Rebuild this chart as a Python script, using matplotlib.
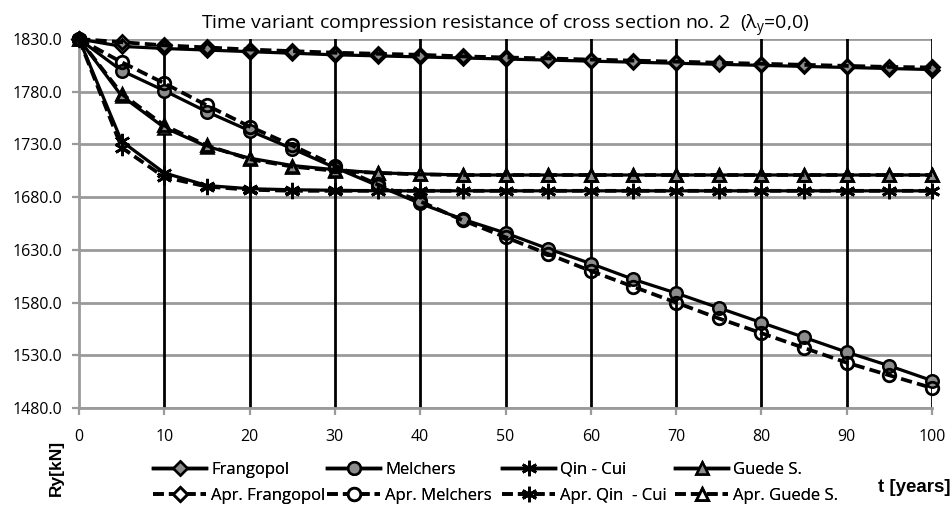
import matplotlib
matplotlib.use("Agg")
import matplotlib.pyplot as plt
import matplotlib.transforms as mtrans
from matplotlib import font_manager as fm
from matplotlib.lines import Line2D

# ---------------- data ----------------
t = [0, 5, 10, 15, 20, 25, 30, 35, 40, 45, 50, 55, 60, 65, 70, 75, 80, 85, 90, 95, 100]

frangopol = [1830, 1823, 1821, 1819.5, 1818, 1816.5, 1815, 1814, 1813, 1812, 1811,
             1810, 1809, 1808, 1807, 1806, 1805, 1804, 1803, 1802, 1801]
melchers = [1830, 1800, 1781, 1761, 1743, 1726, 1708, 1691, 1674, 1659, 1646,
            1631, 1617, 1602, 1589, 1575, 1561, 1547, 1533, 1520, 1506]
qin_cui = [1830, 1733, 1703, 1691, 1688, 1687, 1686.5, 1686, 1686, 1686, 1686,
           1686, 1686, 1686, 1686, 1686, 1686, 1686, 1686, 1686, 1686]
guede = [1830, 1776, 1746, 1728, 1717, 1710, 1706, 1703, 1702, 1701, 1701,
         1701, 1701, 1701, 1701, 1701, 1701, 1701, 1701, 1701, 1701]

apr_frangopol = [1830, 1827, 1824, 1822, 1820, 1818.5, 1817, 1816, 1815, 1813.5, 1812.5,
                 1811.5, 1810.5, 1809.5, 1808.5, 1807.5, 1806.5, 1805.5, 1804.5, 1803.5, 1803]
apr_melchers = [1830, 1808, 1788, 1767, 1747, 1729, 1710, 1692, 1676, 1658, 1642,
                1626, 1610, 1595, 1580, 1565, 1551, 1537, 1523, 1511, 1499]
apr_qin_cui = [1830, 1727, 1699, 1690, 1687, 1686, 1686, 1686, 1686, 1686, 1686,
               1686, 1686, 1686, 1686, 1686, 1686, 1686, 1686, 1686, 1686]
apr_guede = [1830, 1778, 1748, 1729, 1716, 1709, 1705, 1703, 1701.5, 1701, 1701,
             1701, 1701, 1701, 1701, 1701, 1701, 1701, 1701, 1701, 1701]

labels = ["Frangopol", "Melchers", "Qin - Cui", "Guede S."]
apr_labels = ["Apr. Frangopol", "Apr. Melchers", "Apr. Qin  - Cui", "Apr. Guede S."]

title = "Time variant compression resistance of cross section no. 2  ($\\lambda_{\\rm y}$=0,0)"
y_ticks = [1480, 1530, 1580, 1630, 1680, 1730, 1780, 1830]
x_ticks = [0, 10, 20, 30, 40, 50, 60, 70, 80, 90, 100]

# ---------------- fonts ----------------
avail = {f.name for f in fm.fontManager.ttflist}
narrow = "Liberation Sans Narrow" if "Liberation Sans Narrow" in avail else "Open Sans"
reg = "Open Sans"
boldf = "Liberation Sans"

plt.rcParams["mathtext.fontset"] = "custom"
plt.rcParams["mathtext.rm"] = reg
plt.rcParams["mathtext.it"] = reg

fig = plt.figure(figsize=(9.52, 5.07), dpi=100)
ax = fig.add_axes([79 / 952, 1 - 408 / 507, (932 - 79) / 952, (408 - 39) / 507])

markers = ["D", "o", (6, 2, 0), "^"]
msizes = [7, 9, 11, 8]
grey = "#8c8c8c"
dash = (0, (3.0, 1.4))

for vals, m, ms in zip([frangopol, melchers, qin_cui, guede], markers, msizes):
    ax.plot(t, vals, color="black", lw=2.3, marker=m, ms=ms, mfc=grey,
            mec="black", mew=1.8, zorder=3, clip_on=False)
for vals, m, ms in zip([apr_frangopol, apr_melchers, apr_qin_cui, apr_guede], markers, msizes):
    ax.plot(t, vals, color="black", lw=2.7, ls=dash, marker=m, ms=ms,
            mfc="none", mec="black", mew=2.0, zorder=4, clip_on=False)

ax.set_xlim(0, 100)
ax.set_ylim(1480, 1830)
ax.set_xticks(x_ticks)
ax.set_xticklabels([])
ax.set_yticks(y_ticks)
ax.set_yticklabels([f"{v:.1f}" for v in y_ticks])

for xv in x_ticks[1:]:
    ax.axvline(xv, color="black", lw=2.0, zorder=2)
for yv in y_ticks:
    ax.axhline(yv, color="#9a9a9a", lw=2.0, zorder=1)

for s in ["top", "right"]:
    ax.spines[s].set_visible(False)
for s in ["left", "bottom"]:
    ax.spines[s].set_color("#9a9a9a")
    ax.spines[s].set_linewidth(2.0)

ax.tick_params(axis="both", colors="#9a9a9a", length=5, width=1.6, labelcolor="black")
ax.tick_params(axis="y", pad=7, labelsize=11.5)
for lab in ax.get_yticklabels():
    lab.set_family(narrow)

# x tick labels placed at the reference row (pixel y = 437)
xtrans = mtrans.blended_transform_factory(ax.transData, fig.transFigure)
for xv in x_ticks:
    ax.text(xv, 1 - 437 / 507, str(xv), transform=xtrans, ha="center", va="center",
            fontsize=11.5, family=narrow, clip_on=False)

ax.set_title(title, fontsize=14, family=reg, pad=5)

fig.text(56 / 952, 1 - 468 / 507, "Ry[kN]", rotation=90, ha="center", va="center",
         fontsize=12.5, fontweight="bold", family=boldf)
fig.text(951 / 952, 1 - 488 / 507, "t [years]", ha="right", va="center",
         fontsize=13.5, fontweight="bold", family=boldf)

# ---------------- legend: four columns ----------------
col_x = [153, 327, 502, 675]
for i in range(4):
    h1 = Line2D([], [], color="black", lw=2.5, marker=markers[i], ms=msizes[i],
                mfc=grey, mec="black", mew=1.8)
    h2 = Line2D([], [], color="black", lw=2.6, ls=dash, marker=markers[i],
                ms=msizes[i], mfc="white", mec="black", mew=2.0)
    leg = fig.legend([h1, h2], [labels[i], apr_labels[i]], loc="center left",
                     bbox_to_anchor=(col_x[i] / 952, 1 - 483 / 507),
                     frameon=False, borderpad=0, borderaxespad=0,
                     handlelength=3.2, handletextpad=0.3, labelspacing=0.6,
                     prop={"family": narrow, "size": 12})
    fig.add_artist(leg)

fig.savefig("out.png", dpi=100)
